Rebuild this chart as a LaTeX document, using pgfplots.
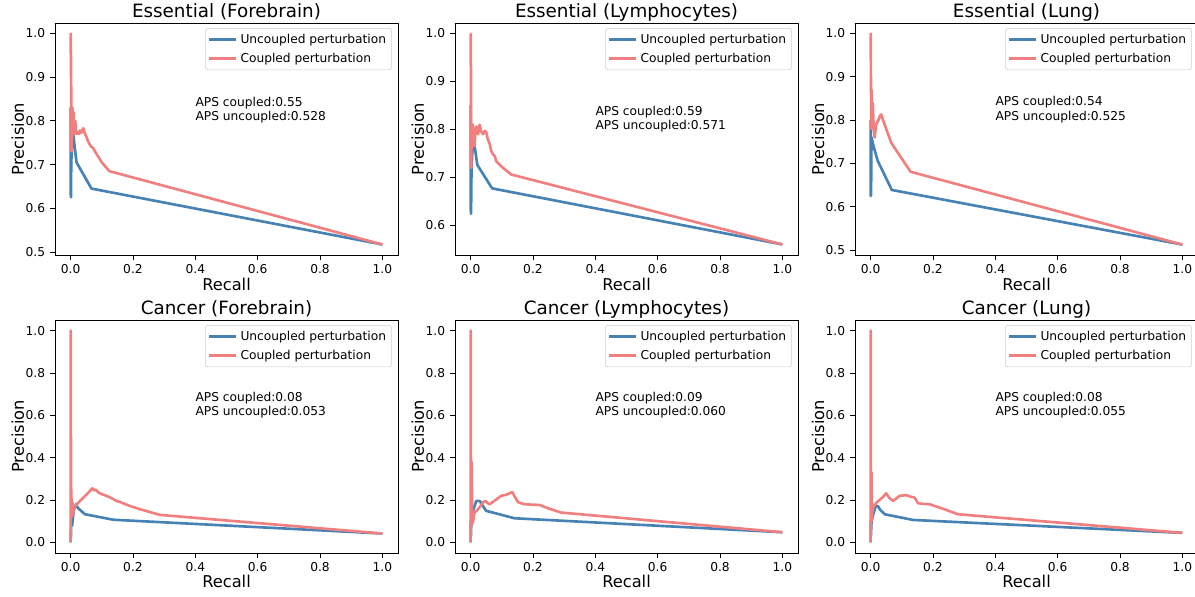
\documentclass[border=0pt]{standalone}
\usepackage{pgfplots}
\pgfplotsset{compat=1.18}
\usepackage{fontspec}
\setmainfont{DejaVu Sans}
\definecolor{cblue}{RGB}{70,130,180}
\definecolor{cred}{RGB}{240,128,128}
\newcommand{\smallf}{\fontsize{8.8}{10.5}\selectfont}
\newcommand{\labf}{\fontsize{11.7}{13.5}\selectfont}
\newcommand{\titf}{\fontsize{13.2}{15}\selectfont}
\pgfplotsset{
  every axis title shift=0pt,
  prstyle/.style={
    scale only axis, width=246.96pt,
    xmin=-0.05, xmax=1.05,
    xtick={0,0.2,0.4,0.6,0.8,1},
    tick align=outside, tick pos=left,
    major tick length=3.6pt,
    every tick/.style={black, line width=0.6pt},
    axis line style={line width=0.6pt},
    tick label style={font=\smallf},
    /pgf/number format/.cd, fixed, fixed zerofill, precision=1, assume math mode=true,
    /pgfplots/.cd,
    title style={font=\titf, at={(0.5,1)}, anchor=base, yshift=4pt},
    xlabel={Recall}, ylabel={Precision},
    label style={font=\labf},
    legend style={font=\smallf, at={(0.982,0.978)}, anchor=north east,
      draw=black!20, rounded corners=2pt, fill=white, fill opacity=0.8, text opacity=1,
      inner sep=2pt, row sep=1.5pt},
    legend cell align=left,
    legend image code/.code={\draw[#1] (0pt,0pt) -- (19.4pt,0pt);},
    every axis plot/.append style={line width=1.9pt, line join=round},
  },
  toprow/.style={height=167.04pt,
    xlabel style={at={(axis description cs:0.5,-0.151)}, anchor=base},
    ylabel style={at={(axis description cs:-0.0904,0.5)}, anchor=base}},
  botrow/.style={height=167.76pt, ymin=-0.05, ymax=1.05,
    ytick={0,0.2,0.4,0.6,0.8,1},
    xlabel style={at={(axis description cs:0.5,-0.150)}, anchor=base},
    ylabel style={at={(axis description cs:-0.0904,0.5)}, anchor=base}},
}
\newcommand{\aps}[4]{%
  \node[anchor=base west, inner sep=0pt, font=\smallf] at (axis cs:0.4,#1) {APS uncoupled:#3};
  \node[anchor=base west, inner sep=0pt, font=\smallf, yshift=10.3pt] at (axis cs:0.4,#1) {APS coupled:#2};
}
\begin{document}
\begin{tikzpicture}
\useasboundingbox (0,0) rectangle (860.4pt,429.12pt);
% ---------- Top left
\begin{axis}[prstyle, toprow, at={(39.6pt,245.52pt)}, anchor=south west,
  ymin=0.493, ymax=1.024, ytick={0.5,0.6,0.7,0.8,0.9,1},
  title={Essential (Forebrain)}]
\addplot[cblue] coordinates {(0,0.67) (0.0003,0.83) (0.0006,0.63) (0.001,0.78) (0.0015,0.625) (0.002,0.70) (0.003,0.72) (0.005,0.76) (0.008,0.772) (0.019,0.705) (0.067,0.645) (1,0.517)};
\addplot[cred] coordinates {(0,1.0) (0.0005,1.0) (0.001,0.9) (0.0015,0.95) (0.002,0.8) (0.0025,0.88) (0.003,0.73) (0.004,0.82) (0.005,0.76) (0.006,0.83) (0.008,0.8) (0.01,0.82) (0.012,0.77) (0.015,0.80) (0.018,0.77) (0.022,0.775) (0.026,0.77) (0.03,0.778) (0.034,0.772) (0.038,0.78) (0.041,0.783) (0.045,0.772) (0.05,0.765) (0.055,0.755) (0.06,0.748) (0.065,0.742) (0.072,0.738) (0.08,0.728) (0.1,0.705) (0.124,0.685) (1.0,0.517)};
\legend{Uncoupled perturbation, Coupled perturbation}
\aps{0.8}{0.55}{0.528}{}
\end{axis}
% ---------- Top middle
\begin{axis}[prstyle, toprow, at={(327.6pt,245.52pt)}, anchor=south west,
  ymin=0.538, ymax=1.022, ytick={0.6,0.7,0.8,0.9,1},
  title={Essential (Lymphocytes)}]
\addplot[cblue] coordinates {(0,0.67) (0.0003,0.85) (0.0006,0.63) (0.001,0.72) (0.0015,0.624) (0.003,0.72) (0.006,0.76) (0.013,0.765) (0.0215,0.726) (0.069,0.677) (1,0.56)};
\addplot[cred] coordinates {(0,1.0) (0.0005,1.0) (0.001,0.85) (0.0015,0.93) (0.002,0.72) (0.003,0.80) (0.004,0.76) (0.0075,0.81) (0.01,0.77) (0.013,0.765) (0.016,0.80) (0.019,0.806) (0.024,0.79) (0.029,0.81) (0.034,0.795) (0.04,0.79) (0.045,0.797) (0.05,0.795) (0.055,0.78) (0.061,0.77) (0.066,0.755) (0.072,0.748) (0.077,0.745) (0.082,0.734) (0.1,0.722) (0.13,0.706) (1,0.56)};
\legend{Uncoupled perturbation, Coupled perturbation}
\aps{0.8}{0.59}{0.571}{}
\end{axis}
% ---------- Top right
\begin{axis}[prstyle, toprow, at={(615.6pt,245.52pt)}, anchor=south west,
  ymin=0.489, ymax=1.024, ytick={0.5,0.6,0.7,0.8,0.9,1},
  title={Essential (Lung)}]
\addplot[cblue] coordinates {(0,0.70) (0.0003,0.80) (0.0006,0.625) (0.001,0.72) (0.0015,0.626) (0.003,0.76) (0.006,0.75) (0.011,0.736) (0.023,0.706) (0.068,0.639) (1,0.513)};
\addplot[cred] coordinates {(0,1.0) (0.0005,1.0) (0.001,0.86) (0.0015,0.9) (0.002,0.78) (0.003,0.87) (0.005,0.80) (0.007,0.84) (0.01,0.78) (0.013,0.76) (0.018,0.79) (0.025,0.80) (0.03,0.81) (0.034,0.813) (0.04,0.80) (0.045,0.79) (0.05,0.78) (0.055,0.77) (0.066,0.748) (0.077,0.736) (0.128,0.681) (1,0.513)};
\legend{Uncoupled perturbation, Coupled perturbation}
\aps{0.8}{0.54}{0.525}{}
\end{axis}
% ---------- Bottom left
\begin{axis}[prstyle, botrow, at={(39.6pt,30.96pt)}, anchor=south west,
  title={Cancer (Forebrain)}]
\addplot[cblue] coordinates {(0,0) (0.0005,0.05) (0.001,0.02) (0.002,0.1) (0.005,0.08) (0.01,0.15) (0.017,0.18) (0.025,0.16) (0.046,0.133) (0.137,0.107) (1,0.042)};
\addplot[cred] coordinates {(0,0) (0.0003,1.0) (0.0006,0.3) (0.001,0.2) (0.0015,0.5) (0.002,0.18) (0.003,0.21) (0.004,0.12) (0.006,0.19) (0.008,0.13) (0.01,0.16) (0.015,0.17) (0.02,0.18) (0.03,0.195) (0.04,0.21) (0.05,0.225) (0.06,0.24) (0.07,0.255) (0.075,0.245) (0.08,0.25) (0.09,0.235) (0.1,0.228) (0.115,0.22) (0.13,0.21) (0.147,0.196) (0.16,0.19) (0.19,0.172) (0.222,0.157) (0.286,0.13) (1,0.042)};
\legend{Uncoupled perturbation, Coupled perturbation}
\aps{0.6}{0.08}{0.053}{}
\end{axis}
% ---------- Bottom middle
\begin{axis}[prstyle, botrow, at={(327.6pt,30.96pt)}, anchor=south west,
  title={Cancer (Lymphocytes)}]
\addplot[cblue] coordinates {(0,0) (0.0005,0.1) (0.001,0.03) (0.003,0.12) (0.008,0.15) (0.018,0.196) (0.029,0.196) (0.036,0.18) (0.05,0.149) (0.141,0.114) (1,0.048)};
\addplot[cred] coordinates {(0,0) (0.0003,1.0) (0.0006,0.1) (0.001,0.4) (0.002,0.35) (0.003,0.38) (0.004,0.33) (0.005,0.086) (0.008,0.10) (0.012,0.14) (0.02,0.15) (0.032,0.172) (0.04,0.19) (0.048,0.195) (0.055,0.185) (0.061,0.18) (0.07,0.19) (0.08,0.2) (0.098,0.22) (0.115,0.225) (0.134,0.238) (0.14,0.22) (0.152,0.19) (0.173,0.18) (0.2,0.178) (0.221,0.177) (0.25,0.16) (0.29,0.141) (1,0.048)};
\legend{Uncoupled perturbation, Coupled perturbation}
\aps{0.6}{0.09}{0.060}{}
\end{axis}
% ---------- Bottom right
\begin{axis}[prstyle, botrow, at={(615.6pt,30.96pt)}, anchor=south west,
  title={Cancer (Lung)}]
\addplot[cblue] coordinates {(0,0) (0.0005,0.1) (0.001,0.03) (0.003,0.1) (0.01,0.14) (0.016,0.17) (0.023,0.172) (0.03,0.155) (0.045,0.133) (0.136,0.106) (1,0.045)};
\addplot[cred] coordinates {(0,0) (0.0003,1.0) (0.0006,0.2) (0.001,0.34) (0.002,0.3) (0.003,0.33) (0.004,0.1) (0.006,0.15) (0.01,0.17) (0.02,0.19) (0.029,0.2) (0.04,0.215) (0.05,0.232) (0.06,0.21) (0.072,0.196) (0.085,0.21) (0.093,0.22) (0.114,0.223) (0.13,0.215) (0.141,0.212) (0.152,0.185) (0.17,0.182) (0.189,0.18) (0.23,0.16) (0.28,0.133) (1,0.045)};
\legend{Uncoupled perturbation, Coupled perturbation}
\aps{0.6}{0.08}{0.055}{}
\end{axis}
\end{tikzpicture}
\end{document}
